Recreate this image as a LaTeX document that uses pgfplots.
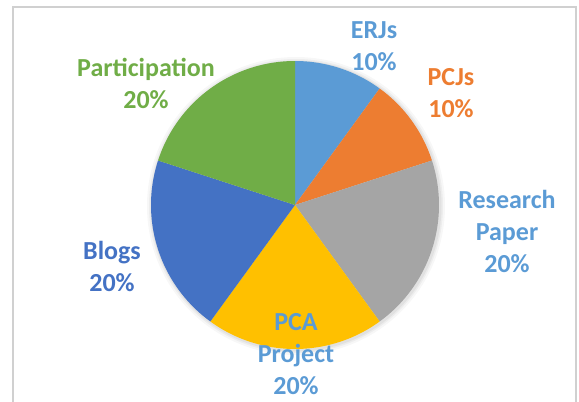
\documentclass[border=0pt]{standalone}
\usepackage{pgfplots}
\pgfplotsset{compat=1.18}
\usepackage{fontspec}
\setmainfont{Carlito}
\definecolor{cerj}{HTML}{5B9BD5}
\definecolor{cpcj}{HTML}{ED7D31}
\definecolor{cres}{HTML}{A5A5A5}
\definecolor{cpca}{HTML}{FFC000}
\definecolor{cblog}{HTML}{4472C4}
\definecolor{cpart}{HTML}{70AD47}
\definecolor{frame}{HTML}{D0D0D0}
\begin{document}
\begin{tikzpicture}
\begin{axis}[
  scale only axis, width=579pt, height=402pt,
  xmin=0, xmax=579, ymin=0, ymax=402,
  hide axis, clip=false,
]
\coordinate (bl) at (axis cs:0,0);
\coordinate (tr) at (axis cs:579,402);
% frame
\draw[frame, line width=1.6pt] (axis cs:13,0) -- (axis cs:13,395) -- (axis cs:576,395) -- (axis cs:576,0);
% soft shadow
\fill[black, opacity=0.03] (axis cs:296,196) circle [radius=149];
\fill[black, opacity=0.04] (axis cs:296,196) circle [radius=147];
\fill[black, opacity=0.05] (axis cs:296,196) circle [radius=145.5];
% slices: percentage / colour, clockwise from 12 o'clock
\gdef\cum{0}
\foreach \v/\c in {10/cerj,10/cpcj,20/cres,20/cpca,20/cblog,20/cpart} {
  \pgfmathsetmacro\a{90-3.6*\cum}
  \pgfmathsetmacro\b{90-3.6*(\cum+\v)}
  \edef\temp{\noexpand\addplot[fill=\c, draw=none, domain=\b:\a, samples=80] ({295+144*cos(x)},{197+144*sin(x)}) -- (axis cs:295,197) -- cycle;}
  \temp
  \pgfmathsetmacro\n{\cum+\v}\xdef\cum{\n}
}
\tikzset{lab/.style={align=center, font=\bfseries\fontsize{26}{32}\selectfont}}
\node[lab, text=cerj] at (axis cs:374,356) {ERJs\\10\%};
\node[lab, text=cpcj] at (axis cs:451,309) {PCJs\\10\%};
\node[lab, text=cerj] at (axis cs:507,171) {Research\\Paper\\20\%};
\node[lab, text=cerj] at (axis cs:296,48) {PCA\\Project\\20\%};
\node[lab, text=cblog] at (axis cs:112,136) {Blogs\\20\%};
\node[lab, text=cpart] at (axis cs:146,319) {Participation\\20\%};
\end{axis}
\pgfresetboundingbox
\path (bl) rectangle (tr);
\end{tikzpicture}
\end{document}
